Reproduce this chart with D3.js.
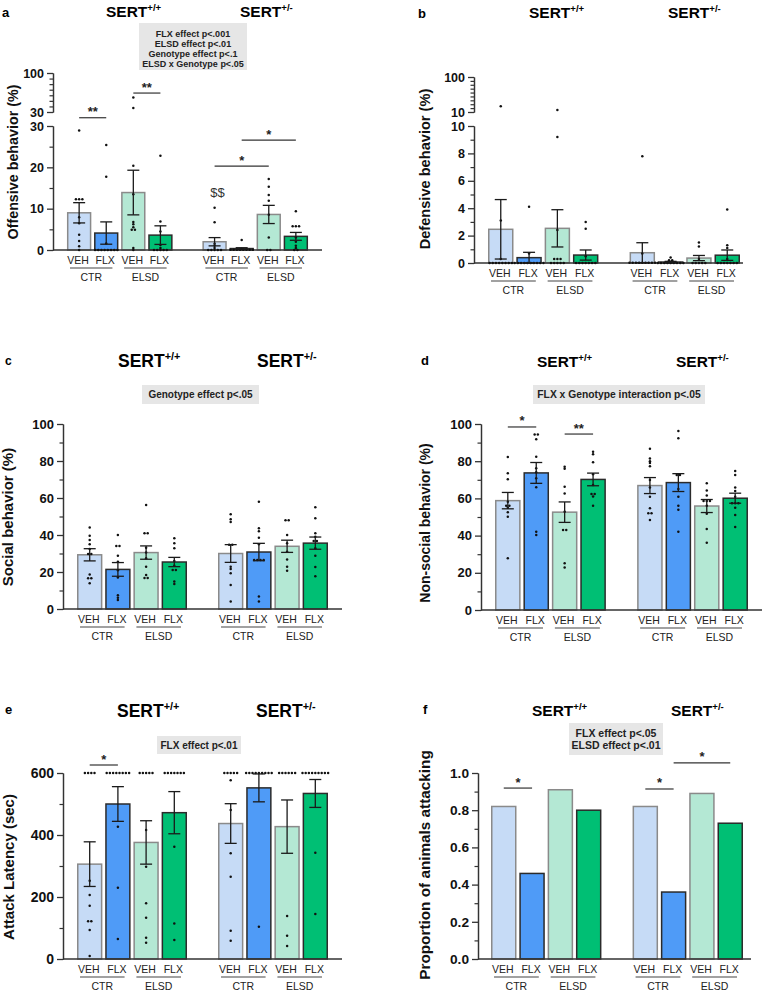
<!DOCTYPE html>
<html><head><meta charset="utf-8">
<script src="https://cdn.jsdelivr.net/npm/d3@7"></script>
<style>body{margin:0;background:#fff} svg{display:block}</style>
</head><body>
<svg id="fig" width="762" height="992"></svg>
<script>
// ---------------- DATA ----------------
const treatments = ["VEH","FLX","VEH","FLX","VEH","FLX","VEH","FLX"];
const conditions = ["CTR","ELSD","CTR","ELSD"];
const genotypeSup = ["+/+","+/-"];
const slots = ["WT-CTR-VEH","WT-CTR-FLX","WT-ELSD-VEH","WT-ELSD-FLX","gap","HET-CTR-VEH","HET-CTR-FLX","HET-ELSD-VEH","HET-ELSD-FLX"];
const barSlots = slots.filter(s => s !== "gap");

// a: offensive behavior (%)
const offMean = [9.0,4.1,13.9,3.6,2.0,0.35,8.6,3.3];
const offSem  = [2.45,2.7,5.4,2.25,1.0,0.2,2.2,0.95];
const offDots = [
  [28.9,12.5,12.3,12,7.9,6.5,3.7,2.2,0.9,0],
  [25.4,17.7,1.6,0,0,0,0,0,0,0,0],
  [56,37,20.4,13.5,6.8,6.2,5.5,5.0,4.8,0.5,0],
  [22.8,6.9,4.5,1.2,0.5,0,0,0,0,0],
  [10.2,6.7,1.5,1.0,0.5,0,0,0,0,0],
  [2.4,0.3,0,0,0,0,0,0,0],
  [17.2,15.3,13.3,11.9,8.5,3.0,0,0],
  [9.4,6.0,5.8,5.5,3.0,2.0,1.0,0.5,0,0]
];
const offTicksLower = [0,10,20,30], offMinorLower = [5,15,25];
const offTicksUpper = [30,100], offMinorUpper = [40,50,60,70,80,90];
const offStats = ["FLX effect p<.001","ELSD effect p<.01","Genotype effect p<.1","ELSD x Genotype p<.05"];

// b: defensive behavior (%)
const defMean = [2.46,0.39,2.53,0.58,0.75,0.07,0.36,0.57];
const defSem  = [2.17,0.39,1.36,0.37,0.73,0.05,0.19,0.38];
const defDots = [
  [25,3.1,0.3,0,0,0,0,0,0,0,0],
  [4.1,0.7,0,0,0,0,0,0,0,0,0,0],
  [15.1,9.2,2.4,0.3,0.3,0.3,0,0,0,0,0],
  [3.0,2.5,0.5,0,0,0,0,0,0,0],
  [7.8,0.7,0.1,0,0,0,0,0,0,0,0],
  [0.4,0.2,0.2,0,0,0,0,0,0,0,0,0],
  [1.5,1.2,0.3,0,0,0,0,0],
  [3.9,1.3,1.1,0.3,0,0,0,0,0,0,0]
];
const defTicksLower = [0,2,4,6,8,10], defMinorLower = [1,3,5,7,9];
const defTicksUpper = [10,100], defMinorUpper = [20,30,40,50,60,70,80,90];

// c: social behavior (%)
const socMean = [29.3,21.4,30.5,25.4,30.0,30.8,33.9,35.6];
const socSem  = [3.3,3.7,3.6,2.5,4.8,4.7,3.3,3.3];
const socDots = [
  [44,39.6,37.3,35,32.4,30,29.5,18.7,16.6,16.6,13.9],
  [40,34,34,28.8,25.6,21,17,7.5,6.1,4.9],
  [56.2,40.9,40.9,33.1,30.6,27.4,22.9,18.4,17,16.6],
  [38.2,35.5,32.8,25.9,23.4,21.1,21.1,14.8,13.5],
  [51.2,48.5,47,35,34.5,22.9,21.6,19.3,13,4],
  [58,43.6,42,38.5,35,26.8,26.4,26.4,26.4,6.7,4],
  [48,48,40,35.5,31,26.8,22.9,20.7],
  [55,49,41,39,36.8,36.8,32.8,28.8,22.7,17.7]
];
const socStats = ["Genotype effect p<.05"];

// d: non-social behavior (%)
const nonMean = [58.8,73.7,52.6,70.2,66.9,68.5,55.9,60.1];
const nonSem  = [4.4,5.6,5.5,3.4,4.3,4.8,3.5,2.7];
const nonDots = [
  [82.3,73.5,70.3,58.2,56,56,55,52.5,50.2,27.8],
  [94.4,94.4,91.8,82.4,76.2,74,70.8,66,42.1,40.3],
  [77,76,66.3,62.7,52.8,43.4,42.5,25.1,22.8],
  [85.1,83.8,79.4,73,67.2,62.4,62.4,61,56],
  [86.7,81.5,80,79,77.3,69.9,65.8,60.9,54.7,52.5,51.6,48.4],
  [96.2,92.3,72.6,72.6,65,60.9,56,53.9,42.1],
  [68.1,64.2,61.5,59,58.5,58.5,56,51.8,43.5,36.2],
  [74.7,72.6,65.8,64,60.9,57.4,57.4,57.4,55,51.1,44.6]
];
const pctTicks = [0,20,40,60,80,100], pctMinor = [10,30,50,70,90];
const nonStats = ["FLX x Genotype interaction p<.05"];

// e: attack latency (sec)
const latMean = [306,500,376,472,437,552,427,534];
const latSem  = [72,56,70,68,64,45,86,45];
const latDots = [
  [600,600,600,600,252.6,206.5,172,124,120,93.5,9.7],
  [600,600,600,600,600,600,600,600,426.8,230,64.5],
  [600,600,600,600,600,416,297.8,179.6,133.3,68.8,52.7],
  [600,600,600,600,600,600,600,362,114.8,61],
  [600,600,600,600,600,577,480.6,340.8,265.6,91.3,59],
  [600,600,600,600,600,600,600,600,600,104],
  [600,600,600,600,600,600,138.7,75.3,42],
  [600,600,600,600,600,600,600,600,600,343,145]
];
const latTicks = [0,200,400,600], latMinor = [100,300,500];
const latStats = ["FLX effect p<.01"];

// f: proportion of animals attacking
const propVals = [0.82,0.46,0.91,0.80,0.82,0.36,0.89,0.73];
const propTicks = [0,0.2,0.4,0.6,0.8,1.0], propMinor = [0.1,0.3,0.5,0.7,0.9];
const propStats = ["FLX effect p<.05","ELSD effect p<.01"];

// ---------------- STYLE ----------------
const fills   = ["#c6dbf6","#4f9bf7","#b4e8d4","#00bf74"];
const strokes = ["#8a8a8a","#2b2b2b","#8a8a8a","#2b2b2b"];
const F  = "'Liberation Sans', Arial, Helvetica, sans-serif";
const FN = "'Liberation Sans Narrow','Arial Narrow','Liberation Sans',Arial,sans-serif";
const svg = d3.select("#fig");

function panel(p) {
  const g = svg.append("g");
  const x = d3.scaleBand().domain(slots).range([p.barL - 1.4, p.barR + 1.4]).paddingInner(0.1).paddingOuter(0.05);
  const bw = x.bandwidth();
  const segs = p.segments.map(s => Object.assign({}, s, {sc: d3.scaleLinear().domain(s.domain).range(s.range)}));
  const y = v => { for (const s of segs) if (v <= s.domain[1]) return s.sc(v); return segs[segs.length-1].sc(v); };
  const base = y(0);
  const cx = i => x(barSlots[i]) + bw / 2;

  // letter
  g.append("text").attr("x", p.letter[0]).attr("y", p.letter[1]).text(p.letter[2])
    .attr("font-family", F).attr("font-weight", "bold").attr("font-size", p.letter[3] || 13);

  // titles
  p.titles.forEach((t, i) => {
    const tx = g.append("text").attr("x", t[0]).attr("y", t[1])
      .attr("font-family", F).attr("font-weight", "bold").attr("font-size", p.titleSize);
    tx.append("tspan").text("SERT");
    tx.append("tspan").attr("dy", -p.titleSize * 0.4).attr("font-size", p.titleSize * 0.62).text(genotypeSup[i]);
  });

  // stats box
  if (p.box) {
    const b = p.box;
    g.append("rect").attr("x", b.x).attr("y", b.y).attr("width", b.w).attr("height", b.h).attr("fill", "#e6e6e6");
    b.lines.forEach((l, i) => g.append("text").attr("x", b.x + b.w / 2).attr("y", b.base + i * b.lh)
      .attr("text-anchor", "middle").attr("font-family", F).attr("font-weight", "bold")
      .attr("font-size", b.size).attr("fill", "#222").text(l));
  }

  // y axis segments
  segs.forEach(s => {
    const ax = d3.axisLeft(s.sc).tickValues(s.major).tickSize(6).tickSizeOuter(0).tickPadding(3)
      .tickFormat(p.fmt || (d => d));
    const ga = g.append("g").attr("transform", `translate(${p.axisX},0)`).call(ax);
    ga.selectAll("text").attr("font-family", F).attr("font-weight", "bold").attr("font-size", p.tickSize).attr("fill", "#111");
    ga.selectAll("line,path").attr("stroke", "#333").attr("stroke-width", 1.3);
    const am = d3.axisLeft(s.sc).tickValues(s.minor).tickSize(3.5).tickSizeOuter(0).tickFormat("");
    const gm = g.append("g").attr("transform", `translate(${p.axisX},0)`).call(am);
    gm.selectAll("line,path").attr("stroke", "#333").attr("stroke-width", 1.2);
  });

  // y label
  g.append("text").attr("transform", `translate(${p.ylab[1]},${p.ylab[2]}) rotate(-90)`)
    .attr("text-anchor", "middle").attr("font-family", F).attr("font-weight", "bold")
    .attr("font-size", p.ylab[3]).attr("fill", "#111").text(p.ylab[0]);

  // bars
  g.selectAll("rect.bar").data(p.means).enter().append("rect")
    .attr("x", (d, i) => x(barSlots[i]) + 0.75).attr("width", bw - 1.5)
    .attr("y", d => y(d)).attr("height", d => base - y(d))
    .attr("fill", (d, i) => fills[i % 4]).attr("stroke", (d, i) => strokes[i % 4]).attr("stroke-width", 1.5);

  // baseline
  g.append("line").attr("x1", p.axisX).attr("x2", p.axisEnd).attr("y1", base).attr("y2", base)
    .attr("stroke", "#333").attr("stroke-width", 1.4);

  // dots
  if (p.dots) {
    p.dots.forEach((vals, i) => {
      const pts = vals.map(v => ({py: y(v)})).sort((a, b) => a.py - b.py);
      const clusters = []; let cur = [];
      pts.forEach(pt => { if (cur.length && pt.py - cur[cur.length - 1].py > 1.8) { clusters.push(cur); cur = []; } cur.push(pt); });
      if (cur.length) clusters.push(cur);
      clusters.forEach(c => {
        const n = c.length, my = d3.mean(c, d => d.py);
        c.forEach((pt, k) => g.append("circle").attr("cx", cx(i) + (k - (n - 1) / 2) * 3.2)
          .attr("cy", n > 1 ? my : pt.py).attr("r", 1.25).attr("fill", "#111"));
      });
    });
  }

  // error bars
  if (p.sems) {
    p.means.forEach((m, i) => {
      const lo = y(Math.max(0, m - p.sems[i])), hi = y(m + p.sems[i]), c = cx(i);
      const col = "#1a1a1a";
      g.append("line").attr("x1", c).attr("x2", c).attr("y1", lo).attr("y2", hi).attr("stroke", col).attr("stroke-width", 1.3);
      [lo, hi].forEach(yy => g.append("line").attr("x1", c - 6).attr("x2", c + 6).attr("y1", yy).attr("y2", yy)
        .attr("stroke", col).attr("stroke-width", 1.3));
    });
  }

  // x labels
  treatments.forEach((t, i) => g.append("text").attr("x", cx(i) - 1).attr("y", base + 13.5)
    .attr("text-anchor", "middle").attr("font-family", FN).attr("font-size", 10.5).attr("fill", "#222").text(t));
  conditions.forEach((c, j) => {
    const xl = x(barSlots[2 * j]) + 3, xr = x(barSlots[2 * j + 1]) + bw - 6;
    g.append("line").attr("x1", xl).attr("x2", xr).attr("y1", base + 18).attr("y2", base + 18)
      .attr("stroke", "#444").attr("stroke-width", 1.1);
    g.append("text").attr("x", (xl + xr) / 2).attr("y", base + 31).attr("text-anchor", "middle")
      .attr("font-family", FN).attr("font-size", 10.5).attr("fill", "#222").text(c);
  });

  // significance
  (p.sig || []).forEach(s => {
    const yy = s[4] === "lower" ? segs[0].sc(s[2]) : y(s[2]);
    g.append("line").attr("x1", cx(s[0])).attr("x2", cx(s[1])).attr("y1", yy).attr("y2", yy)
      .attr("stroke", "#333").attr("stroke-width", 1.2);
    g.append("text").attr("x", (cx(s[0]) + cx(s[1])) / 2).attr("y", yy - 1.5).attr("text-anchor", "middle")
      .attr("font-family", F).attr("font-weight", "bold").attr("font-size", 13).attr("fill", "#222").text(s[3]);
  });
  (p.notes || []).forEach(n => g.append("text").attr("x", cx(n[0]) + 3).attr("y", y(n[1]))
    .attr("text-anchor", "middle").attr("font-family", F).attr("font-size", 13).attr("fill", "#333").text(n[2]));
}

// ---------------- PANELS ----------------
panel({
  letter: [2, 17, "a", 13], titles: [[106, 17], [240, 17]], titleSize: 15.5,
  box: {x: 139, y: 23, w: 108, h: 47, lines: offStats, size: 9, base: 36.5, lh: 10},
  axisX: 53, barL: 67, barR: 308, axisEnd: 322, tickSize: 12.5,
  segments: [
    {domain: [0, 30], range: [250, 126], major: offTicksLower, minor: offMinorLower},
    {domain: [30, 100], range: [112, 73], major: offTicksUpper, minor: offMinorUpper}
  ],
  ylab: ["Offensive behavior (%)", 17.5, 162, 14.3],
  means: offMean, sems: offSem, dots: offDots,
  sig: [[0, 1, 32, "**", "lower"], [2, 3, 64, "**"], [5, 7, 26.6, "*"], [4, 6, 20.3, "*"]],
  notes: [[4, 12.8, "$$"]]
});
panel({
  letter: [418, 18, "b", 13], titles: [[529, 18], [668, 18]], titleSize: 15.5,
  axisX: 474, barL: 488, barR: 740, axisEnd: 743, tickSize: 12.5,
  segments: [
    {domain: [0, 10], range: [263, 126], major: defTicksLower, minor: defMinorLower},
    {domain: [10, 100], range: [112, 77], major: defTicksUpper, minor: defMinorUpper}
  ],
  ylab: ["Defensive behavior (%)", 430, 169, 14.6],
  means: defMean, sems: defSem, dots: defDots
});
panel({
  letter: [5, 365, "c", 12], titles: [[118, 367], [257, 367]], titleSize: 17.5,
  box: {x: 142, y: 385, w: 117, h: 19, lines: socStats, size: 10, base: 398, lh: 12},
  axisX: 63, barL: 77, barR: 328, axisEnd: 342, tickSize: 13,
  segments: [{domain: [0, 100], range: [609, 424], major: pctTicks, minor: pctMinor}],
  ylab: ["Social behavior (%)", 12.5, 517, 15],
  means: socMean, sems: socSem, dots: socDots
});
panel({
  letter: [421, 365, "d", 13], titles: [[537, 367], [676, 367]], titleSize: 15.5,
  box: {x: 533, y: 385, w: 172, h: 19, lines: nonStats, size: 10.3, base: 398, lh: 12},
  axisX: 481, barL: 495, barR: 748, axisEnd: 762, tickSize: 13,
  segments: [{domain: [0, 100], range: [610, 424], major: pctTicks, minor: pctMinor}],
  ylab: ["Non-social behavior (%)", 429.5, 523, 14],
  means: nonMean, sems: nonSem, dots: nonDots,
  sig: [[0, 1, 98.4, "*"], [2, 3, 94.6, "**"]]
});
panel({
  letter: [5, 714, "e", 13], titles: [[117, 717], [256, 717]], titleSize: 17.5,
  box: {x: 157, y: 736, w: 84, h: 18, lines: latStats, size: 10, base: 749, lh: 12},
  axisX: 63, barL: 77, barR: 328, axisEnd: 342, tickSize: 14,
  segments: [{domain: [0, 600], range: [959, 773], major: latTicks, minor: latMinor}],
  ylab: ["Attack Latency (sec)", 14, 867, 15],
  means: latMean, sems: latSem, dots: latDots,
  sig: [[0, 1, 625.8, "*"]]
});
panel({
  letter: [423, 714, "f", 13], titles: [[532, 716], [671, 716]], titleSize: 15.5,
  box: {x: 569, y: 723, w: 94, h: 32, lines: propStats, size: 10.5, base: 736.5, lh: 12.3},
  axisX: 478, barL: 491, barR: 743, axisEnd: 751, tickSize: 13.7, fmt: d3.format(".1f"),
  segments: [{domain: [0, 1], range: [959, 773], major: propTicks, minor: propMinor}],
  ylab: ["Proportion of animals attacking", 430, 865, 15.3],
  means: propVals,
  sig: [[0, 1, 0.919, "*"], [4, 5, 0.914, "*"], [5, 7, 1.054, "*"]]
});
</script>
</body></html>
